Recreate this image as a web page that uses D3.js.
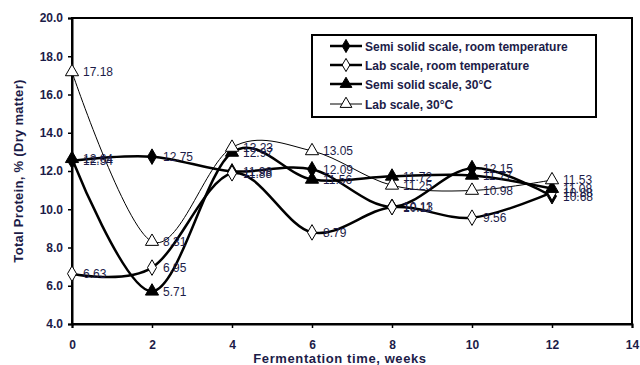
<!DOCTYPE html>
<html>
<head>
<meta charset="utf-8">
<script src="https://cdn.jsdelivr.net/npm/d3@7"></script>
<style>
  body { margin: 0; background: #fff; }
  text { font-family: Arial, "Liberation Sans", sans-serif; }
</style>
</head>
<body>
<div class="canvas"></div>
<script>
// data
const weeks = [0, 2, 4, 6, 8, 10, 12];
const semiRoom = [12.54, 12.75, 11.98, 12.09, 10.13, 12.15, 10.68];
const labRoom = [6.63, 6.95, 11.88, 8.79, 10.11, 9.56, 10.88];
const semi30 = [12.64, 5.71, 12.97, 11.56, 11.72, 11.77, 11.08];
const lab30 = [17.18, 8.31, 13.23, 13.05, 11.25, 10.98, 11.53];
const yTicks = [4, 6, 8, 10, 12, 14, 16, 18, 20];
const xTicks = [0, 2, 4, 6, 8, 10, 12, 14];

const seriesList = [
    {name: 'Semi solid scale, room temperature', values: semiRoom, shape: d3.symbolDiamond, fill: '#000', width: 2.5},
    {name: 'Lab scale, room temperature', values: labRoom, shape: d3.symbolDiamond, fill: '#fff', width: 2.5},
    {name: 'Semi solid scale, 30°C', values: semi30, shape: d3.symbolTriangle, fill: '#000', width: 2.5},
    {name: 'Lab scale, 30°C', values: lab30, shape: d3.symbolTriangle, fill: '#fff', width: 1}
];

const svg = d3.select('.canvas')
    .append('svg')
    .attr('width', 640)
    .attr('height', 365);

const margin = {top: 18, right: 8, bottom: 41, left: 72};
const graphWidth = 640 - margin.left - margin.right;
const graphHeight = 365 - margin.top - margin.bottom;
const textColor = '#1c1c48';

const graph = svg.append('g')
    .attr('transform', `translate(${margin.left}, ${margin.top})`);

const x = d3.scaleLinear().domain([0, 14]).range([0, graphWidth]);
const y = d3.scaleLinear().domain([4, 20]).range([graphHeight, 0]);

// frame
graph.append('rect')
    .attr('width', graphWidth)
    .attr('height', graphHeight)
    .attr('fill', 'none')
    .attr('stroke', '#000')
    .attr('stroke-width', 2);

const xAxisGroup = graph.append('g')
    .attr('transform', `translate(0, ${graphHeight})`)
    .call(d3.axisBottom(x).tickValues(xTicks).tickSize(4).tickPadding(12).tickFormat(d3.format('d')));
const yAxisGroup = graph.append('g')
    .call(d3.axisLeft(y).tickValues(yTicks).tickSize(4).tickPadding(5).tickFormat(d3.format('.1f')));

[xAxisGroup, yAxisGroup].forEach(g => {
    g.select('.domain').attr('stroke-width', 2);
    g.selectAll('.tick line').attr('stroke-width', 1.5);
    g.selectAll('text')
        .attr('font-size', 12)
        .attr('font-weight', 'bold')
        .attr('fill', textColor);
});

// axis titles
svg.append('text')
    .attr('x', 340)
    .attr('y', 363)
    .attr('text-anchor', 'middle')
    .attr('font-size', 13)
    .attr('font-weight', 'bold')
    .attr('letter-spacing', 0.6)
    .attr('fill', textColor)
    .text('Fermentation time, weeks');

svg.append('text')
    .attr('transform', 'translate(23, 171) rotate(-90)')
    .attr('text-anchor', 'middle')
    .attr('font-size', 13)
    .attr('font-weight', 'bold')
    .attr('letter-spacing', 0.3)
    .attr('fill', textColor)
    .text('Total Protein, % (Dry matter)');

const line = d3.line()
    .x((d, i) => x(weeks[i]))
    .y(d => y(d))
    .curve(d3.curveCardinal.tension(0));

seriesList.forEach(s => {
    graph.append('path')
        .attr('d', line(s.values))
        .attr('fill', 'none')
        .attr('stroke', '#000')
        .attr('stroke-width', s.width);
});

seriesList.forEach(s => {
    const sym = d3.symbol().type(s.shape).size(s.shape === d3.symbolTriangle ? 75 : 70);
    graph.selectAll(null)
        .data(s.values)
        .enter()
        .append('path')
            .attr('d', sym)
            .attr('transform', (d, i) => `translate(${x(weeks[i])}, ${y(d)})`)
            .attr('fill', s.fill)
            .attr('stroke', '#000')
            .attr('stroke-width', 1);

    graph.selectAll(null)
        .data(s.values)
        .enter()
        .append('text')
            .attr('x', (d, i) => x(weeks[i]) + 11)
            .attr('y', d => y(d) + 4.5)
            .attr('font-size', 12)
            .attr('fill', textColor)
            .text(d => d.toFixed(2));
});

// legend
const legend = svg.append('g');
legend.append('rect')
    .attr('x', 312)
    .attr('y', 35)
    .attr('width', 284)
    .attr('height', 82)
    .attr('fill', '#fff')
    .attr('stroke', '#000')
    .attr('stroke-width', 2);

const legendRows = [46, 65, 84, 104];
seriesList.forEach((s, i) => {
    const ly = legendRows[i];
    legend.append('line')
        .attr('x1', 330).attr('x2', 362)
        .attr('y1', ly).attr('y2', ly)
        .attr('stroke', '#000')
        .attr('stroke-width', s.width);
    legend.append('path')
        .attr('d', d3.symbol().type(s.shape).size(s.shape === d3.symbolTriangle ? 60 : 50)())
        .attr('transform', `translate(346, ${ly})`)
        .attr('fill', s.fill)
        .attr('stroke', '#000');
    legend.append('text')
        .attr('x', 365)
        .attr('y', ly + 4.5)
        .attr('font-size', 12)
        .attr('font-weight', 'bold')
        .attr('fill', textColor)
        .text(s.name);
});
</script>
</body>
</html>
